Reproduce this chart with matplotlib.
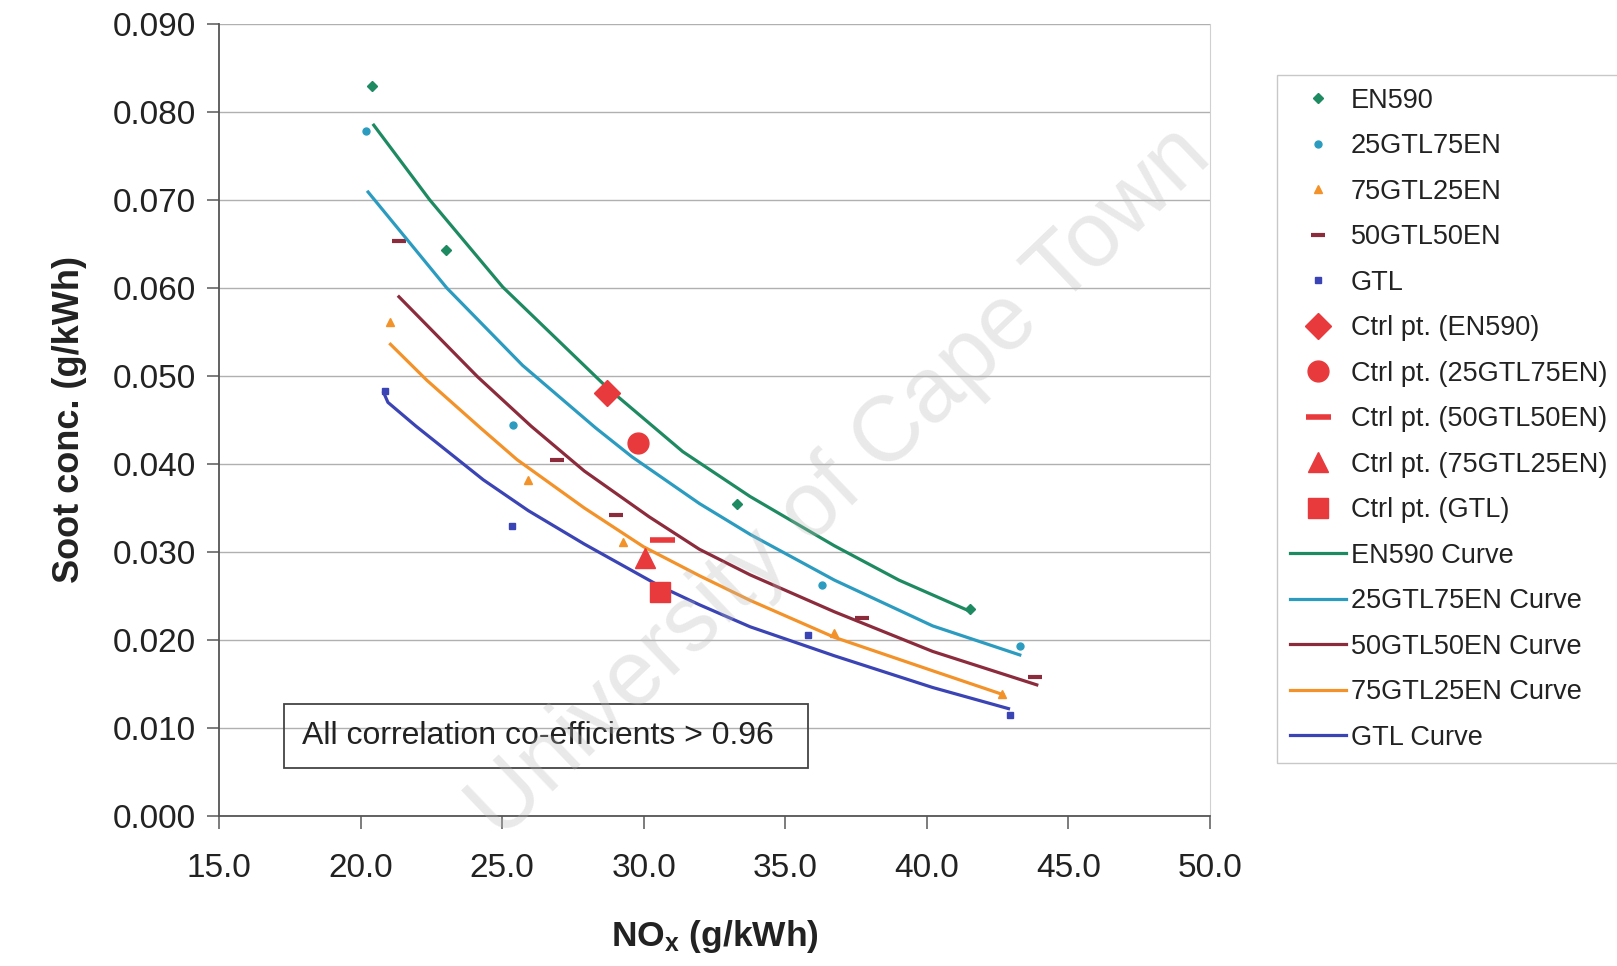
import matplotlib
matplotlib.use('Agg')
import matplotlib.pyplot as plt
from matplotlib.patches import Rectangle
from matplotlib.ticker import FormatStrFormatter, MultipleLocator

plt.rcParams['font.family'] = ['Liberation Sans', 'DejaVu Sans']
plt.rcParams['mathtext.fontset'] = 'custom'
plt.rcParams['mathtext.rm'] = 'Liberation Sans'
plt.rcParams['mathtext.bf'] = 'Liberation Sans:bold'

# measured points (NOx, soot)
en590_x = [20.39, 23.00, 33.29, 41.53]
en590_y = [0.0830, 0.0643, 0.0355, 0.0235]
g25_x = [20.17, 25.39, 36.29, 43.28]
g25_y = [0.0778, 0.0444, 0.0263, 0.0193]
g75_x = [21.04, 25.92, 29.26, 36.71, 42.65]
g75_y = [0.0561, 0.0382, 0.0311, 0.0208, 0.0139]
g50_x = [21.35, 26.95, 29.03, 37.71, 43.84]
g50_y = [0.0653, 0.0405, 0.0342, 0.0225, 0.0158]
gtl_x = [20.84, 25.33, 35.79, 42.95]
gtl_y = [0.0483, 0.0330, 0.0206, 0.0115]

# control points
ctrl_labels = ['Ctrl pt. (EN590)', 'Ctrl pt. (25GTL75EN)', 'Ctrl pt. (50GTL50EN)',
               'Ctrl pt. (75GTL25EN)', 'Ctrl pt. (GTL)']
ctrl_x = [28.70, 29.78, 30.63, 30.05, 30.57]
ctrl_y = [0.0481, 0.0424, 0.0314, 0.0293, 0.0254]

# trend curves
en590_cx = [20.46, 22.44, 25.02, 28.70, 31.38, 33.76, 36.74, 39.02, 41.50]
en590_cy = [0.0785, 0.0700, 0.0601, 0.0487, 0.0414, 0.0363, 0.0307, 0.0268, 0.0233]
g25_cx = [20.26, 23.04, 25.72, 28.30, 29.59, 31.97, 33.76, 36.74, 40.21, 43.29]
g25_cy = [0.0709, 0.0600, 0.0512, 0.0441, 0.0408, 0.0355, 0.0320, 0.0268, 0.0216, 0.0183]
g50_cx = [21.35, 24.13, 26.02, 27.90, 30.19, 31.97, 33.76, 36.74, 40.21, 43.89]
g50_cy = [0.0590, 0.0499, 0.0443, 0.0392, 0.0340, 0.0303, 0.0274, 0.0232, 0.0187, 0.0149]
g75_cx = [21.05, 22.34, 24.23, 25.52, 27.90, 29.99, 31.97, 33.76, 36.74, 40.21, 42.69]
g75_cy = [0.0536, 0.0495, 0.0441, 0.0405, 0.0350, 0.0306, 0.0273, 0.0245, 0.0203, 0.0165, 0.0138]
gtl_cx = [20.81, 20.96, 21.95, 24.33, 25.92, 27.90, 30.58, 31.97, 33.76, 36.74, 40.21, 42.89]
gtl_cy = [0.0481, 0.0470, 0.0443, 0.0382, 0.0347, 0.0309, 0.0261, 0.0240, 0.0215, 0.0182, 0.0146, 0.0122]

c_en = '#1e8a62'
c_25 = '#2b9cc0'
c_75 = '#f39229'
c_50 = '#8c2b3c'
c_gtl = '#3b44b4'
c_red = '#e83a3c'

fig = plt.figure(figsize=(16.17, 9.66), dpi=100)
ax = fig.add_axes([0.1356, 0.1553, 0.6125, 0.8199])

ax.plot(en590_x, en590_y, 'D', color=c_en, ms=5, ls='none', label='EN590')
ax.plot(g25_x, g25_y, 'o', color=c_25, ms=5, ls='none', label='25GTL75EN')
ax.plot(g75_x, g75_y, '^', color=c_75, ms=6, ls='none', label='75GTL25EN')
ax.plot(g50_x, g50_y, '_', color=c_50, ms=10, mew=3, ls='none', label='50GTL50EN')
ax.plot(gtl_x, gtl_y, 's', color=c_gtl, ms=5, ls='none', label='GTL')

ctrl_style = [dict(marker='D', ms=13), dict(marker='o', ms=15), dict(marker='_', ms=18, mew=4),
              dict(marker='^', ms=15), dict(marker='s', ms=14)]
for lab, x, y, st in zip(ctrl_labels, ctrl_x, ctrl_y, ctrl_style):
    ax.plot([x], [y], ls='none', color=c_red, label=lab, zorder=4, **st)

ax.plot(en590_cx, en590_cy, color=c_en, lw=2.3, label='EN590 Curve')
ax.plot(g25_cx, g25_cy, color=c_25, lw=2.3, label='25GTL75EN Curve')
ax.plot(g50_cx, g50_cy, color=c_50, lw=2.3, label='50GTL50EN Curve')
ax.plot(g75_cx, g75_cy, color=c_75, lw=2.3, label='75GTL25EN Curve')
ax.plot(gtl_cx, gtl_cy, color=c_gtl, lw=2.3, label='GTL Curve')

ax.set_xlim(15, 50)
ax.set_ylim(0, 0.09)
ax.xaxis.set_major_locator(MultipleLocator(5))
ax.yaxis.set_major_locator(MultipleLocator(0.01))
ax.xaxis.set_major_formatter(FormatStrFormatter('%.1f'))
ax.yaxis.set_major_formatter(FormatStrFormatter('%.3f'))
ax.yaxis.grid(True, color='#b0b0b0', lw=1.0)
ax.set_axisbelow(True)
for s in ['left', 'bottom']:
    ax.spines[s].set_color('#555555')
    ax.spines[s].set_linewidth(1.3)
ax.spines['top'].set_visible(False)
ax.spines['right'].set_color('#d0d0d0')
ax.tick_params(axis='both', labelsize=24, colors='#666666', labelcolor='#222222',
               length=9, width=1.2)
ax.tick_params(axis='y', pad=8)
ax.tick_params(axis='x', pad=18)

ax.set_ylabel('Soot conc. (g/kWh)', fontsize=26, fontweight='bold', color='#222222', labelpad=18)
ax.set_xlabel(r'$\mathbf{NO_x}$ (g/kWh)', fontsize=25.5, fontweight='bold', color='#222222', labelpad=24)

# note box
ax.add_patch(Rectangle((0.0650, 0.0602), 0.529, 0.0807, transform=ax.transAxes,
                       fill=False, ec='#444444', lw=1.3, zorder=5))
ax.text(0.0835, 0.1005, 'All correlation co-efficients > 0.96', transform=ax.transAxes,
        fontsize=23, color='#222222', va='center', ha='left', zorder=6)

leg = ax.legend(loc='upper left', bbox_to_anchor=(0.790, 0.922), bbox_transform=fig.transFigure,
                fontsize=19.5, frameon=True, fancybox=False, edgecolor='#bbbbbb',
                labelspacing=0.72, handlelength=2.1, handletextpad=0.15, borderaxespad=0,
                borderpad=0.45, markerscale=1.0)
for t in leg.get_texts():
    t.set_color('#222222')

fig.text(0.520, 0.500, 'University of Cape Town', fontsize=66, color='#b8b8b8', alpha=0.3,
         rotation=43.7, ha='center', va='center', zorder=10)

fig.savefig('out.png', dpi=100)
